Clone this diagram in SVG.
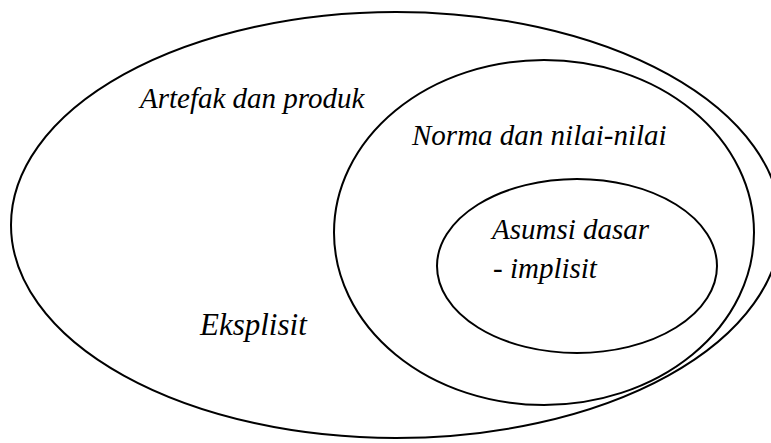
<svg xmlns="http://www.w3.org/2000/svg" width="771" height="443" viewBox="0 0 771 443">
<style>
.ring{fill:none;stroke:#000;stroke-width:2}
</style>
<rect width="771" height="443" fill="#fff"/>
<g id="outer">
<ellipse class="ring" cx="396" cy="225" rx="385" ry="213"/>
</g>
<g id="middle">
<ellipse class="ring" cx="544" cy="232.5" rx="210" ry="172.5"/>
</g>
<g id="inner">
<ellipse class="ring" cx="577" cy="266" rx="140" ry="87"/>
</g>
<g id="labels">
<text x="140" y="108" font-size="29" font-family="Liberation Serif, serif" font-style="italic">Artefak dan produk</text>
<text x="200" y="335" font-size="31" font-family="Liberation Serif, serif" font-style="italic">Eksplisit</text>
<text x="412" y="145" font-size="29" font-family="Liberation Serif, serif" font-style="italic">Norma dan nilai-nilai</text>
<text x="492" y="239" font-size="29" font-family="Liberation Serif, serif" font-style="italic">Asumsi dasar</text>
<text x="493" y="278" font-size="29" font-family="Liberation Serif, serif" font-style="italic">- implisit</text>
</g>
</svg>
